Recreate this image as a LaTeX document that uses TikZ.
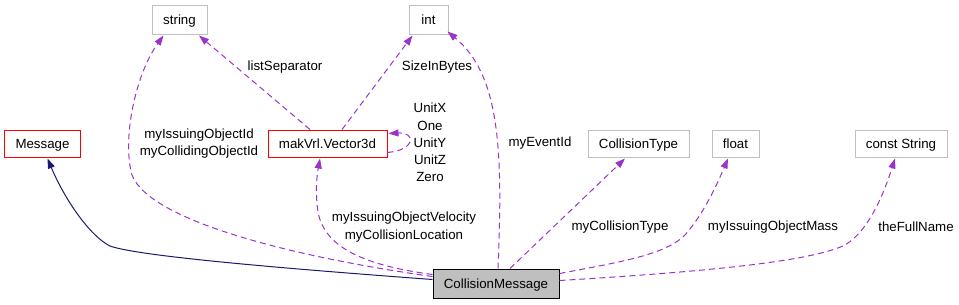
\documentclass[tikz,border=0pt]{standalone}
\usepackage{fontspec}
\setmainfont{Liberation Sans}
\usetikzlibrary{arrows.meta,calc}
\definecolor{depc}{HTML}{9A32CD}
\definecolor{inhc}{HTML}{191970}
\definecolor{gbord}{HTML}{BFBFBF}
\newcommand{\fs}{\fontsize{13.3bp}{17.2bp}\selectfont}
\begin{document}
\begin{tikzpicture}[x=1bp,y=-1bp,
  box/.style={draw, line width=1bp, minimum height=27bp, inner sep=0pt, text height=9.5bp, text depth=0.5bp, font=\fs},
  gbox/.style={box, draw=gbord},
  rbox/.style={box, draw=red},
  mbox/.style={box, draw=black, fill=gbord, minimum height=29bp},
  lbl/.style={font=\fs, align=center, inner sep=0pt},
  depline/.style={draw=depc, line width=1bp, dash pattern=on 6bp off 4bp, -{Triangle[length=10bp,width=7bp,fill=depc]}},
  inhline/.style={draw=inhc, line width=1bp, -{Triangle[length=10bp,width=7bp,fill=inhc]}}]
\useasboundingbox (0,0) rectangle (959,304);
% nodes
\node[gbox, minimum width=55bp, minimum height=29bp] (string) at (179.5,19.5) {string};
\node[gbox, minimum width=39bp, minimum height=29bp] (int) at (428.5,19.5) {int};
\node[rbox, minimum width=75bp] (msg) at (42.5,143.5) {Message};
\node[rbox, minimum width=119bp] (vec) at (327.5,143.5) {makVrl.Vector3d};
\node[gbox, minimum width=101bp] (ctype) at (638.5,143.5) {CollisionType};
\node[gbox, minimum width=47bp] (float) at (735.5,143.5) {float};
\node[gbox, minimum width=92bp] (cstr) at (901,143.5) {const String};
\node[mbox, minimum width=126bp] (cm) at (496,283.5) {CollisionMessage};
% labels
\node[lbl] (lsep) at (285,67) {listSeparator};
\node[lbl] (sib) at (437,67) {SizeInBytes};
\node[lbl] (ids) at (199,143.5) {myIssuingObjectId\\myCollidingObjectId};
\node[lbl] (units) at (430,142.5) {UnitX\\One\\UnitY\\UnitZ\\Zero};
\node[lbl] (velo) at (404,227) {myIssuingObjectVelocity\\myCollisionLocation};
\node[lbl] (evid) at (540,143) {myEventId};
\node[lbl] (ctl) at (620,227) {myCollisionType};
\node[lbl] (mass) at (773,227) {myIssuingObjectMass};
\node[lbl] (fname) at (916,227) {theFullName};
% connectors
\draw[inhline] ($(cm.north west)+(0,11)$) .. controls (250,266) and (135,255) .. (110,246)
  .. controls (90,236) and (65,200) .. ($(msg.south)+(5,1)$);
\draw[depline] ($(cm.north west)+(0,8)$) .. controls (300,258) and (150,222) .. (132,175)
  .. controls (122,140) and (135,75) .. ($(string.south west)+(12,1)$);
\draw[depline] ($(vec.north)+(-17.5,0)$) -- ($(string.south)+(19.5,1)$);
\draw[depline] ($(vec.north)+(14.5,0)$) -- ($(int.south west)+(4,1)$);
\draw[depline] ($(cm.north)+(2,0)$) .. controls (503,150) and (500,75) .. ($(int.south east)+(-1,-3)$);
\draw[depline] ($(cm.north west)+(0,6)$) .. controls (370,266) and (325,250) .. (318,212)
  .. controls (315,192) and (317,175) .. ($(vec.south)+(-7.5,1)$);
\draw[depline] ($(vec.east)+(0,9)$) .. controls (416,150) and (416,132) .. ($(vec.east)+(1,-10)$);
\draw[depline] ($(cm.north)+(14,0)$) -- ($(ctype.south)+(-13.5,1)$);
\draw[depline] ($(cm.east)+(0,-10)$) .. controls (620,262) and (665,255) .. (685,235)
  .. controls (705,212) and (718,182) .. ($(float.south)+(-7.5,1)$);
\draw[depline] ($(cm.east)+(0,-3)$) .. controls (700,272) and (810,262) .. (845,245)
  .. controls (870,230) and (885,190) .. ($(cstr.south)+(-6,1)$);
\end{tikzpicture}
\end{document}
